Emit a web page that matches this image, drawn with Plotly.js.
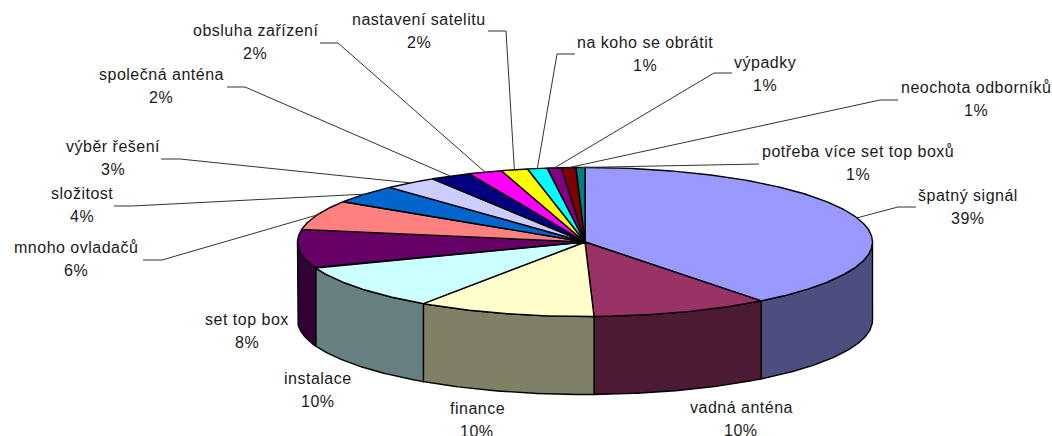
<!DOCTYPE html>
<html>
<head>
<meta charset="utf-8">
<script src="https://cdn.plot.ly/plotly-3.0.1.min.js"></script>
<style>html,body{margin:0;padding:0;background:#fff;overflow:hidden}
.annotation-text{letter-spacing:0.5px}</style>
</head>
<body>
<div id="chart" style="width:1052px;height:436px"></div>
<script>
// Data
const categories = ["špatný signál","vadná anténa","finance","instalace","set top box","mnoho ovladačů","složitost","výběr řešení","společná anténa","obsluha zařízení","nastavení satelitu","na koho se obrátit","výpadky","neochota odborníků","potřeba více set top boxů"];
const sliceShares = [39.5,10,10,9.8,8.4,6.4,4,3,2.3,1.9,1.5,1.1,0.8,0.8,0.5];
const percentLabels = ["39%","10%","10%","10%","8%","6%","4%","3%","2%","2%","2%","1%","1%","1%","1%"];

// Styling and layout
const topColors = ["#9999FF","#993366","#FFFFCC","#CCFFFF","#660066","#FF8080","#0066CC","#CCCCFF","#000080","#FF00FF","#FFFF00","#00FFFF","#800080","#800000","#008080"];
const wallColors = ["#4D4D80","#4D1A33","#808066","#668080","#330033"];
const labelCenterX = [968,741,477,318,247,76,82,113,161,255,419,645,765,976,858];
const labelTopY = [195,407,408,378,319,247,193,146,74,30,19,42,62,87,151];
const lineGap = 23;
const leaderEndX = [916,null,null,null,null,143,114,161,227,320,488,575,732,898,759];
const leaderEndY = [207,null,null,null,null,260,206,159,87,43,31,54,73,100,164];
const leaderElbowDx = [-18,0,0,0,0,19,18,19,18,18,18,-18,-18,-18,0];
const cx = 585, cy = 242, rx = 287.5, ry = 74.5, depth = 78;

const pt = (deg, dy) => {
  const a = deg * Math.PI / 180;
  return [cx + rx * Math.sin(a), cy - ry * Math.cos(a) + (dy || 0)];
};
const total = sliceShares.reduce((s, v) => s + v, 0);
let cum = 0;
const slices = sliceShares.map(v => {
  const s = cum / total * 360; cum += v;
  return {start: s, end: cum / total * 360};
});
const arc = (a, b, dy) => {
  const n = Math.max(2, Math.ceil(Math.abs(b - a) * 2));
  const out = [];
  for (let i = 0; i <= n; i++) out.push(pt(a + (b - a) * i / n, dy));
  return out;
};
const traces = [];
const poly = (points, fill, width, color, close) => {
  const p = close ? points.concat([points[0]]) : points;
  traces.push({
    type: "scatter", mode: "lines", hoverinfo: "skip", showlegend: false,
    x: p.map(q => q[0]), y: p.map(q => q[1]),
    fill: fill ? "toself" : "none", fillcolor: fill || undefined,
    line: {color: color || "#000", width: width, shape: "linear"}
  });
};
// side walls of the visible front half
slices.forEach((s, i) => {
  const a = Math.max(s.start, 90), b = Math.min(s.end, 270);
  if (b <= a) return;
  poly(arc(a, b, 0).concat(arc(b, a, depth)), wallColors[i], 1.4, "#000", true);
});
// top face
slices.forEach((s, i) => {
  poly([[cx, cy]].concat(arc(s.start, s.end, 0)), topColors[i], 1.4, "#000", true);
});
// leader lines
slices.forEach((s, i) => {
  if (leaderEndX[i] === null) return;
  const p = pt((s.start + s.end) / 2, 0);
  poly([p, [leaderEndX[i] + leaderElbowDx[i], leaderEndY[i]], [leaderEndX[i], leaderEndY[i]]], null, 1, "#333", false);
});
const font = {family: "Liberation Sans, Arial, sans-serif", size: 16, color: "#1a1a1a"};
const annotations = [];
categories.forEach((c, i) => {
  [c, percentLabels[i]].forEach((t, k) => annotations.push({
    text: t, x: labelCenterX[i], y: labelTopY[i] + k * lineGap,
    xref: "x", yref: "y", showarrow: false, xanchor: "center", yanchor: "middle", font: font
  }));
});
Plotly.newPlot("chart", traces, {
  width: 1052, height: 436,
  margin: {l: 0, r: 0, t: 0, b: 0},
  paper_bgcolor: "#fff", plot_bgcolor: "#fff", showlegend: false,
  xaxis: {range: [0, 1052], visible: false, fixedrange: true},
  yaxis: {range: [436, 0], visible: false, fixedrange: true},
  annotations: annotations
}, {displayModeBar: false, staticPlot: true});
</script>
</body>
</html>
